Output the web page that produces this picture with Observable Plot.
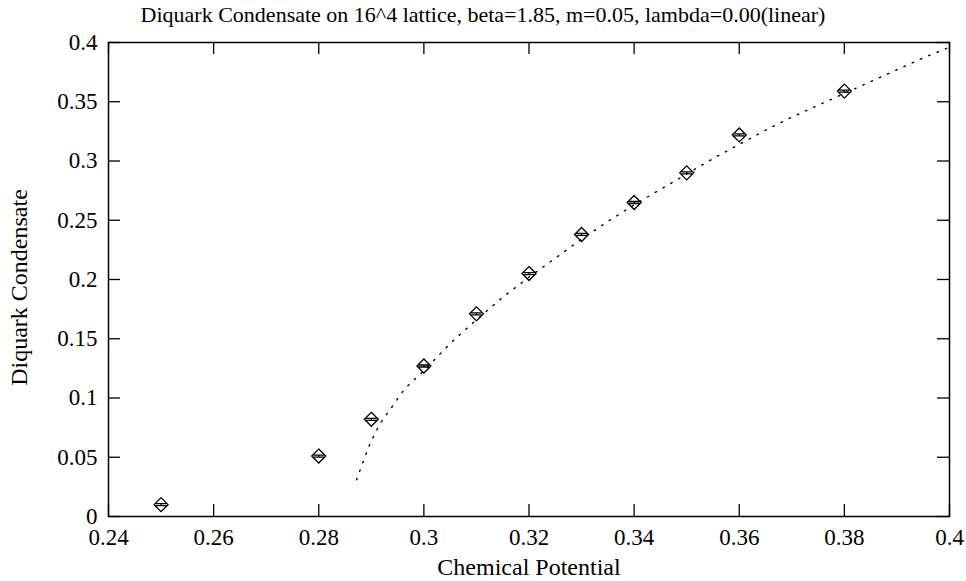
<!DOCTYPE html>
<html>
<head>
<meta charset="utf-8">
<script src="https://cdn.jsdelivr.net/npm/d3@7"></script>
<script src="https://cdn.jsdelivr.net/npm/@observablehq/plot@0.6"></script>
<style>
  html, body { margin: 0; padding: 0; background: #fff; }
  #title { width: 966px; height: 30px; line-height: 30px; text-align: center;
           font-family: "Liberation Serif", "Times New Roman", serif; font-size: 22px; color: #000; }
</style>
</head>
<body>
<div id="title"></div>
<div id="chart"></div>
<script>
const titleText = "Diquark Condensate on 16^4 lattice, beta=1.85, m=0.05, lambda=0.00(linear)";
const xLabel = "Chemical Potential";
const yLabel = "Diquark Condensate";

// measured data points
const mu = [0.25, 0.28, 0.29, 0.30, 0.31, 0.32, 0.33, 0.34, 0.35, 0.36, 0.38];
const condensate = [0.010, 0.051, 0.082, 0.127, 0.171, 0.205, 0.238, 0.265, 0.290, 0.322, 0.359];

// dotted fit curve
const fitMu = [0.2872, 0.2885, 0.2898, 0.2916, 0.2937, 0.2959, 0.2971, 0.300, 0.305, 0.310, 0.315, 0.320, 0.325, 0.330, 0.335, 0.340, 0.345, 0.350, 0.355, 0.360, 0.365, 0.370, 0.375, 0.380, 0.385, 0.390, 0.395, 0.400];
const fitCond = [0.031, 0.047, 0.062, 0.078, 0.091, 0.105, 0.111, 0.123, 0.146, 0.166, 0.185, 0.202, 0.218, 0.234, 0.249, 0.263, 0.276, 0.289, 0.302, 0.314, 0.326, 0.337, 0.347, 0.357, 0.367, 0.377, 0.387, 0.396];

const xTicks = [0.24, 0.26, 0.28, 0.30, 0.32, 0.34, 0.36, 0.38, 0.40];
const yTicks = [0, 0.05, 0.10, 0.15, 0.20, 0.25, 0.30, 0.35, 0.40];

document.getElementById("title").textContent = titleText;

const points = mu.map((m, i) => ({mu: m, c: condensate[i]}));
const fit = fitMu.map((m, i) => ({mu: m, c: fitCond[i]}));
const fmt = d => String(Math.round(d * 100) / 100);

// diamond with small error-bar caps through its centre
const diamondBar = {
  draw(ctx, size) {
    const r = Math.sqrt(size / Math.PI);
    ctx.moveTo(0, -r); ctx.lineTo(r, 0); ctx.lineTo(0, r); ctx.lineTo(-r, 0); ctx.closePath();
    const w = r * 0.75;
    ctx.moveTo(-w, -1); ctx.lineTo(w, -1);
    ctx.moveTo(-w, 1); ctx.lineTo(w, 1);
    ctx.moveTo(0, -1); ctx.lineTo(0, 1);
  }
};

const W = 966, H = 551;
const mT = 12, mB = 65, mL = 108, mR = 17;
const innerH = H - mT - mB, innerW = W - mL - mR;
const tick = 12;

const chart = Plot.plot({
  width: W, height: H,
  marginTop: mT, marginBottom: mB, marginLeft: mL, marginRight: mR,
  style: {fontFamily: "'Liberation Serif', 'Times New Roman', serif", fontSize: "23px", color: "#000", background: "#fff"},
  x: {domain: [0.24, 0.40]},
  y: {domain: [0, 0.40]},
  marks: [
    Plot.axisX({ticks: xTicks, tickFormat: fmt, tickSize: 0, tickPadding: 12, label: null}),
    Plot.axisY({ticks: yTicks, tickFormat: fmt, tickSize: 0, tickPadding: 11, label: null}),
    // inward ticks on all four sides
    Plot.ruleX(xTicks, {x: d => d, insetTop: innerH - tick, stroke: "#000", strokeWidth: 1.3}),
    Plot.ruleX(xTicks, {x: d => d, insetBottom: innerH - tick, stroke: "#000", strokeWidth: 1.3}),
    Plot.ruleY(yTicks, {y: d => d, insetRight: innerW - tick, stroke: "#000", strokeWidth: 1.3}),
    Plot.ruleY(yTicks, {y: d => d, insetLeft: innerW - tick, stroke: "#000", strokeWidth: 1.3}),
    Plot.line(fit, {x: "mu", y: "c", stroke: "#000", strokeWidth: 1.4, strokeDasharray: "1.5,7.5"}),
    Plot.dot(points, {x: "mu", y: "c", symbol: diamondBar, r: 7, stroke: "#000", strokeWidth: 1.3, fill: "none"}),
    Plot.frame({stroke: "#000", strokeWidth: 1.5}),
    Plot.text([xLabel], {frameAnchor: "bottom", dy: 58, fontSize: 24, fill: "#000"}),
    Plot.text([yLabel], {frameAnchor: "left", textAnchor: "middle", dx: -89, dy: 8, rotate: -90, fontSize: 24, fill: "#000"})
  ]
});
document.getElementById("chart").appendChild(chart);
</script>
</body>
</html>
